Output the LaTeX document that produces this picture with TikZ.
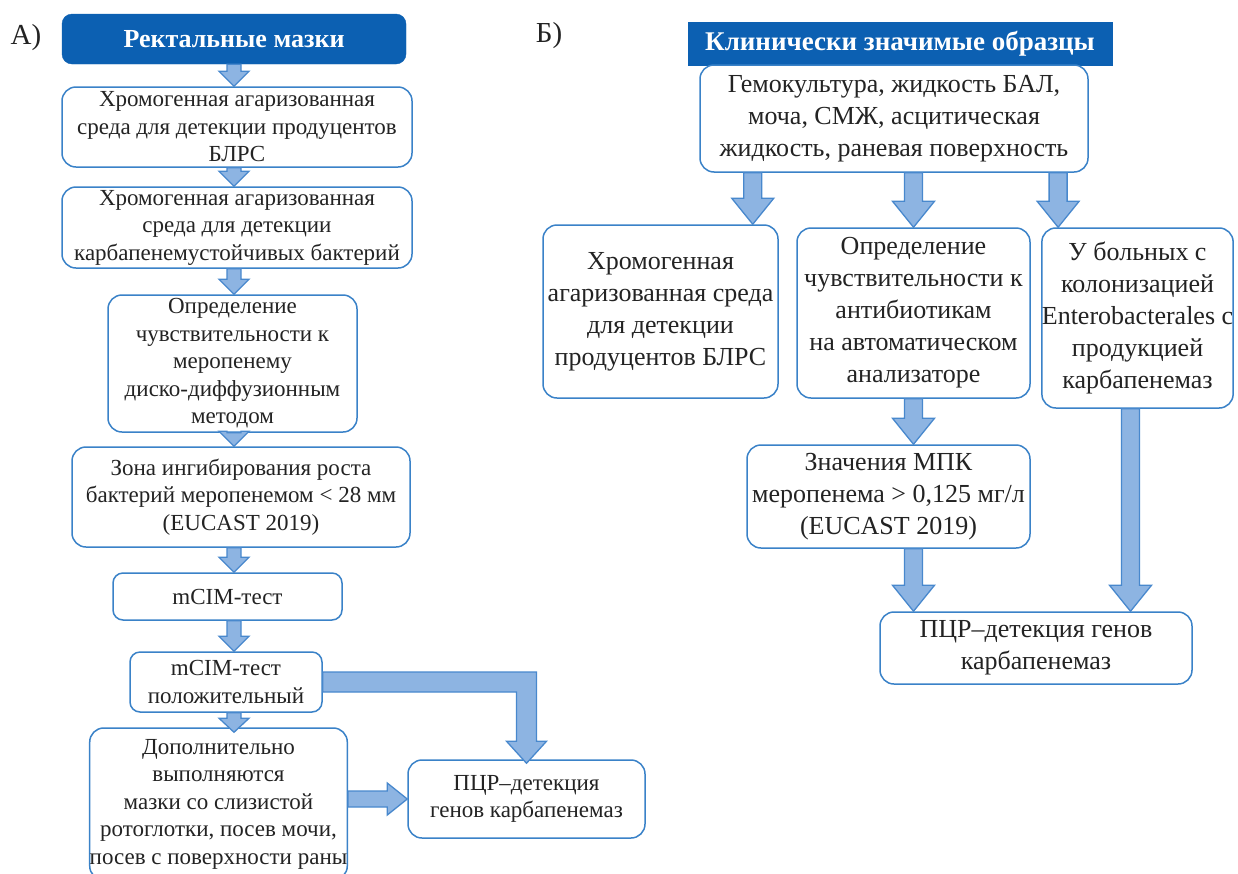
\documentclass[tikz,border=0pt]{standalone}
\usepackage{fontspec}
\setmainfont{Liberation Serif}
\usetikzlibrary{calc}
\definecolor{hdr}{RGB}{12,96,178}
\definecolor{bxline}{RGB}{58,130,200}
\definecolor{arrfill}{RGB}{141,180,226}
\definecolor{arrline}{RGB}{72,136,205}
\definecolor{txt}{RGB}{35,35,35}
% vertical block arrow: start, end, half shaft, half head, head length
\newcommand\vblk[5]{%
 \draw[blk] let \p1=#1, \p2=#2 in
  (\x1-#3pt,\y1) -- (\x1-#3pt,\y2+#5pt) -- (\x1-#4pt,\y2+#5pt) -- (\x1,\y2)
  -- (\x1+#4pt,\y2+#5pt) -- (\x1+#3pt,\y2+#5pt) -- (\x1+#3pt,\y1) -- cycle;}
% horizontal block arrow (to the right)
\newcommand\hblk[5]{%
 \draw[blk] let \p1=#1, \p2=#2 in
  (\x1,\y2+#3pt) -- (\x2-#5pt,\y2+#3pt) -- (\x2-#5pt,\y2+#4pt) -- (\x2,\y2)
  -- (\x2-#5pt,\y2-#4pt) -- (\x2-#5pt,\y2-#3pt) -- (\x1,\y2-#3pt) -- cycle;}
\tikzset{
 box/.style={draw=bxline, line width=1.5pt, rounded corners=14pt, fill=white,
   align=center, text=txt, inner sep=0pt, font=\fontsize{23}{27.5}\selectfont},
 boxb/.style={box, font=\fontsize{26}{32}\selectfont},
 hdrbox/.style={fill=hdr, draw=hdr, text=white, align=center, inner sep=0pt},
 lbl/.style={text=txt, inner sep=0pt, font=\fontsize{29}{32}\selectfont},
 blk/.style={fill=arrfill, draw=arrline, line width=1.3pt, line join=miter},
}
\begin{document}
\begin{tikzpicture}[x=1pt,y=-1pt]
\useasboundingbox (0,0) rectangle (1238,873);
\fill[white] (0,0) rectangle (1238,873);

% ---------- Panel A ----------
\node[lbl] (LA) at (26,38) {А)};
\node[hdrbox, rounded corners=10pt, minimum width=344pt, minimum height=50pt,
  font=\bfseries\fontsize{26}{30}\selectfont] (A0) at (234,39) {Ректальные мазки};
\node[box, minimum width=350pt, minimum height=80pt] (A1) at (237,127)
 {Хромогенная агаризованная\\среда для детекции продуцентов\\БЛРС};
\node[box, minimum width=350pt, minimum height=81pt] (A2) at (237,227.5)
 {Хромогенная агаризованная\\среда для детекции\\карбапенемустойчивых бактерий};
\node[box, minimum width=249pt, minimum height=137pt] (A3) at (232.5,363.5)
 {Определение\\чувствительности к\\меропенему\\диско-диффузионным\\методом};
\node[box, minimum width=338pt, minimum height=100pt] (A4) at (241,497)
 {Зона ингибирования роста\\бактерий меропенемом < 28 мм\\(EUCAST 2019)};
\node[box, rounded corners=10pt, minimum width=229pt, minimum height=47pt] (A5) at (227.5,596.5)
 {mCIM-тест};
\node[box, rounded corners=10pt, minimum width=192pt, minimum height=60pt] (A6) at (226,682)
 {mCIM-тест\\положительный};
\node[box, minimum width=253pt, minimum height=152pt] (A7) at (218.5,804)
 {Дополнительно\\выполняются\\мазки со слизистой\\ротоглотки, посев мочи,\\посев с поверхности раны};
\node[box, minimum width=237pt, minimum height=78pt] (A8) at (526.5,799)
 {ПЦР–детекция\\генов карбапенемаз};

\vblk{(A0.south)}{(A1.north)}{7}{15}{15}
\vblk{(A1.south -| A0.south)}{(A2.north)}{7}{15}{15}
\vblk{(A2.south -| A0.south)}{(A3.north)}{7}{15}{15}
\vblk{(A3.south -| A0.south)}{(A4.north)}{7}{15}{15}
\vblk{(A4.south -| A0.south)}{(A5.north)}{7}{15}{15}
\vblk{(A5.south -| A0.south)}{(A6.north)}{7}{15}{15}
\vblk{(A6.south -| A0.south)}{([yshift=-5pt]A7.north)}{7}{15}{14}
\hblk{(A7.east)}{(A8.west)}{8}{16}{20}
\draw[blk] let \p1=(A6.east), \p2=([yshift=-4pt]A8.north) in
  (\x1,\y1+10pt) -- (\x2+10pt,\y1+10pt) -- (\x2+10pt,\y2+22pt) -- (\x2+20pt,\y2+22pt)
  -- (\x2,\y2) -- (\x2-20pt,\y2+22pt) -- (\x2-10pt,\y2+22pt) -- (\x2-10pt,\y1-10pt)
  -- (\x1,\y1-10pt) -- cycle;

% ---------- Panel B ----------
\node[lbl] (LB) at (549,36) {Б)};
\node[hdrbox, minimum width=424pt, minimum height=43pt,
  font=\bfseries\fontsize{27}{30}\selectfont] (B0) at (900,43.5) {Клинически значимые образцы};
\node[boxb, minimum width=388pt, minimum height=107pt] (B1) at (894,118.5)
 {Гемокультура, жидкость БАЛ,\\моча, СМЖ, асцитическая\\жидкость, раневая поверхность};
\node[boxb, minimum width=235pt, minimum height=173pt] (B2) at (660.5,311.5)
 {Хромогенная\\агаризованная среда\\для детекции\\продуцентов БЛРС};
\node[boxb, minimum width=233pt, minimum height=170pt] (B3) at (913.5,313)
 {Определение\\чувствительности к\\антибиотикам\\на автоматическом\\анализаторе};
\node[boxb, minimum width=189pt, minimum height=180pt] (B4) at (1137.5,318)
 {У больных с\\колонизацией\\Enterobacterales с\\продукцией\\карбапенемаз};
\node[boxb, minimum width=283pt, minimum height=103pt] (B5) at (888.5,496.5)
 {Значения МПК\\меропенема > 0,125 мг/л\\(EUCAST 2019)};
\node[boxb, minimum width=312pt, minimum height=72pt] (B6) at (1036,648)
 {ПЦР–детекция генов\\карбапенемаз};

\vblk{([xshift=-26pt]B2.north east |- B1.south)}{(B2.north)}{9}{21}{26}
\vblk{(B3.north |- B1.south)}{(B3.north)}{9}{21}{26}
\vblk{([xshift=17pt]B4.north west |- B1.south)}{(B4.north)}{9}{21}{26}
\vblk{(B3.south)}{(B5.north)}{9}{21}{26}
\vblk{(B3.south |- B5.south)}{(B6.north)}{9}{21}{26}
\vblk{([xshift=-7pt]B4.south)}{(B6.north)}{9}{21}{26}
\end{tikzpicture}
\end{document}
